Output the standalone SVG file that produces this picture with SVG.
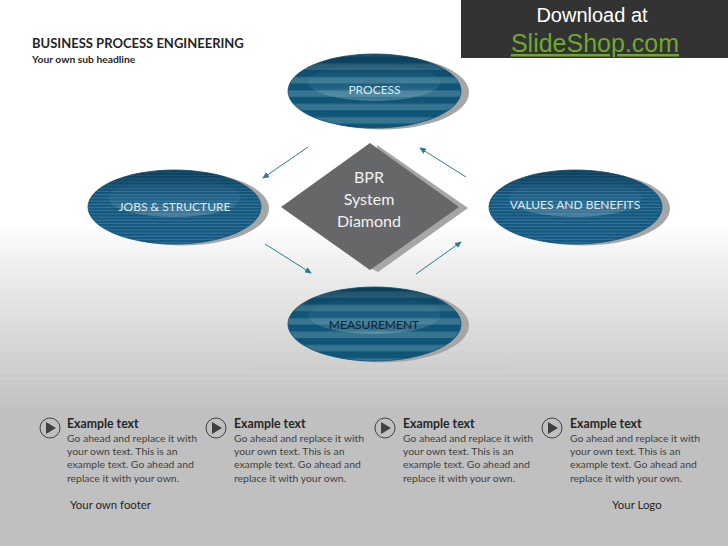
<svg xmlns="http://www.w3.org/2000/svg" width="728" height="546" viewBox="0 0 728 546">
<style>
text{font-family:"Lato","Open Sans","Liberation Sans",sans-serif}
.sh{fill:#a6a6a6}
.top{fill:url(#shade)}
.rim{fill:none;stroke:#114c6e;stroke-width:.8}
.lbl{font-size:12px;fill:#dcebf3;text-anchor:middle}
.cap{font-size:12.300px;font-weight:700;fill:#262626}
.body{font-size:10.400px;fill:#404040}
.ft{font-size:11.400px;fill:#262626}
.conn{stroke:#2f7a92;stroke-width:1;fill:none;marker-end:url(#ah)}
.ring{fill:none;stroke:#404040;stroke-width:1}
.tri{fill:#404040}
.gloss{fill:url(#gl)}
.bl{fill:#fff;opacity:.12}
</style>
<defs>
<linearGradient id="bg" gradientUnits="userSpaceOnUse" x1="0" y1="225" x2="0" y2="408"><stop offset="0" stop-color="#fff"/><stop offset=".2" stop-color="#f0f0f0"/><stop offset="1" stop-color="#c2c2c2"/></linearGradient>
<linearGradient id="gl" x1="0" y1="0" x2="0" y2="1"><stop offset="0" stop-color="#a9c8d6" stop-opacity="0"/><stop offset=".6" stop-color="#a9c8d6" stop-opacity=".1"/><stop offset="1" stop-color="#b7d2de" stop-opacity=".32"/></linearGradient>
<linearGradient id="shade" x1="0" y1="0" x2="0" y2="1"><stop offset="0" stop-color="#06283d" stop-opacity=".55"/><stop offset=".35" stop-color="#06283d" stop-opacity="0"/><stop offset="1" stop-color="#06283d" stop-opacity="0"/></linearGradient>
<pattern id="wide" width="10" height="13.400" patternUnits="userSpaceOnUse" y="3"><rect width="10" height="13.400" fill="#0f5578"/><rect y="7" width="10" height="6.400" fill="#37758f"/></pattern>
<pattern id="fine" width="10" height="3.200" patternUnits="userSpaceOnUse"><rect width="10" height="3.200" fill="#14587f"/><rect y="2.200" width="10" height="1" fill="#35759a"/></pattern>
<marker id="ah" markerWidth="7" markerHeight="6" refX="6" refY="3" orient="auto" markerUnits="userSpaceOnUse"><path d="M0,0L7,3L0,6Z" fill="#2f7a92"/></marker>
</defs>
<rect id="background" width="728" height="410" fill="url(#bg)"/>
<g id="bands"><rect class="bl" y="287" width="728" height="1"/><rect class="bl" y="305" width="728" height="1"/><rect class="bl" y="328" width="728" height="1"/><rect class="bl" y="348" width="728" height="1"/><rect class="bl" y="371" width="728" height="1"/><rect class="bl" y="378" width="728" height="1"/><rect class="bl" y="393" width="728" height="1"/><rect class="bl" y="401" width="728" height="1"/></g>
<rect width="728" height="138" y="408" fill="#c0c0c0"/>
<g id="banner"><rect x="461" width="267" height="58" fill="#333"/>
<text x="592" y="22" text-anchor="middle" style="font-family:'Liberation Sans',sans-serif;font-size:20px;fill:#fff">Download at</text>
<text x="595" y="52" text-anchor="middle" text-decoration="underline" style="font-family:'Liberation Sans',sans-serif;font-size:25px;fill:#6fa82e">SlideShop.com</text></g>
<g id="title"><text x="32" y="48" style="font-size:13px;font-weight:700;fill:#262626">BUSINESS PROCESS ENGINEERING</text>
<text x="32" y="63" style="font-size:10.300px;font-weight:700;fill:#262626">Your own sub headline</text></g>
<g id="connectors">
<path class="conn" d="M308,147L263,178"/>
<path class="conn" d="M466,177L420,148"/>
<path class="conn" d="M265,244L311,273"/>
<path class="conn" d="M416,274L461,242"/>
</g>
<g id="node-process"><ellipse class="sh" cx="382" cy="92.500" rx="87" ry="37"/><ellipse cx="374.500" cy="91" rx="86.500" ry="37" fill="url(#wide)"/><ellipse class="top" cx="374.500" cy="91" rx="86.500" ry="37"/><ellipse class="gloss" cx="374.500" cy="82" rx="66" ry="19"/><ellipse class="rim" cx="374.500" cy="91" rx="86.500" ry="37"/><text class="lbl" x="374.500" y="94">PROCESS</text></g>
<g id="node-jobs"><ellipse class="sh" cx="182" cy="208.500" rx="87" ry="37"/><ellipse cx="174.500" cy="207" rx="86.500" ry="37" fill="url(#fine)"/><ellipse class="top" cx="174.500" cy="207" rx="86.500" ry="37"/><ellipse class="gloss" cx="174.500" cy="198" rx="66" ry="19"/><ellipse class="rim" cx="174.500" cy="207" rx="86.500" ry="37"/><text class="lbl" x="174.500" y="211">JOBS &amp; STRUCTURE</text></g>
<g id="node-values"><ellipse class="sh" cx="583" cy="208.500" rx="87" ry="37"/><ellipse cx="575.500" cy="207" rx="86.500" ry="37" fill="url(#fine)"/><ellipse class="top" cx="575.500" cy="207" rx="86.500" ry="37"/><ellipse class="gloss" cx="575.500" cy="198" rx="66" ry="19"/><ellipse class="rim" cx="575.500" cy="207" rx="86.500" ry="37"/><text class="lbl" x="575" y="209">VALUES AND BENEFITS</text></g>
<g id="node-measurement"><ellipse class="sh" cx="382" cy="325.500" rx="87" ry="37"/><ellipse cx="374.500" cy="324" rx="86.500" ry="37" fill="url(#wide)"/><ellipse class="top" cx="374.500" cy="324" rx="86.500" ry="37"/><ellipse class="gloss" cx="374.500" cy="315" rx="66" ry="19"/><ellipse class="rim" cx="374.500" cy="324" rx="86.500" ry="37"/><text x="374" y="329" style="font-size:12px;text-anchor:middle;fill:#0b2233">MEASUREMENT</text></g>
<g id="node-bpr"><path d="M377,145L468,208L378,272L370,268Z" fill="#a6a6a6"/><path d="M370,143L459,207L370,270L281,207Z" fill="#666769"/>
<g style="font-size:16px;fill:#f2f2f2;text-anchor:middle"><text x="369" y="183">BPR</text><text x="369" y="205">System</text><text x="369" y="227">Diamond</text></g></g>
<g id="item-1"><circle class="ring" cx="50" cy="428" r="10"/><path class="tri" d="M46,422L56,428L46,434Z"/><text class="cap" x="67" y="428">Example text</text><text class="body"><tspan x="67" y="442">Go ahead and replace it with</tspan><tspan x="67" y="455">your own text. This is an</tspan><tspan x="67" y="468">example text. Go ahead and</tspan><tspan x="67" y="482">replace it with your own.</tspan></text></g>
<g id="item-2"><circle class="ring" cx="216" cy="428" r="10"/><path class="tri" d="M212,422L222,428L212,434Z"/><text class="cap" x="234" y="428">Example text</text><text class="body"><tspan x="234" y="442">Go ahead and replace it with</tspan><tspan x="234" y="455">your own text. This is an</tspan><tspan x="234" y="468">example text. Go ahead and</tspan><tspan x="234" y="482">replace it with your own.</tspan></text></g>
<g id="item-3"><circle class="ring" cx="385" cy="428" r="10"/><path class="tri" d="M381,422L391,428L381,434Z"/><text class="cap" x="403" y="428">Example text</text><text class="body"><tspan x="403" y="442">Go ahead and replace it with</tspan><tspan x="403" y="455">your own text. This is an</tspan><tspan x="403" y="468">example text. Go ahead and</tspan><tspan x="403" y="482">replace it with your own.</tspan></text></g>
<g id="item-4"><circle class="ring" cx="552" cy="428" r="10"/><path class="tri" d="M548,422L558,428L548,434Z"/><text class="cap" x="570" y="428">Example text</text><text class="body"><tspan x="570" y="442">Go ahead and replace it with</tspan><tspan x="570" y="455">your own text. This is an</tspan><tspan x="570" y="468">example text. Go ahead and</tspan><tspan x="570" y="482">replace it with your own.</tspan></text></g>
<g id="footer"><text class="ft" x="70" y="509">Your own footer</text><text class="ft" x="612" y="509">Your Logo</text></g>
</svg>
